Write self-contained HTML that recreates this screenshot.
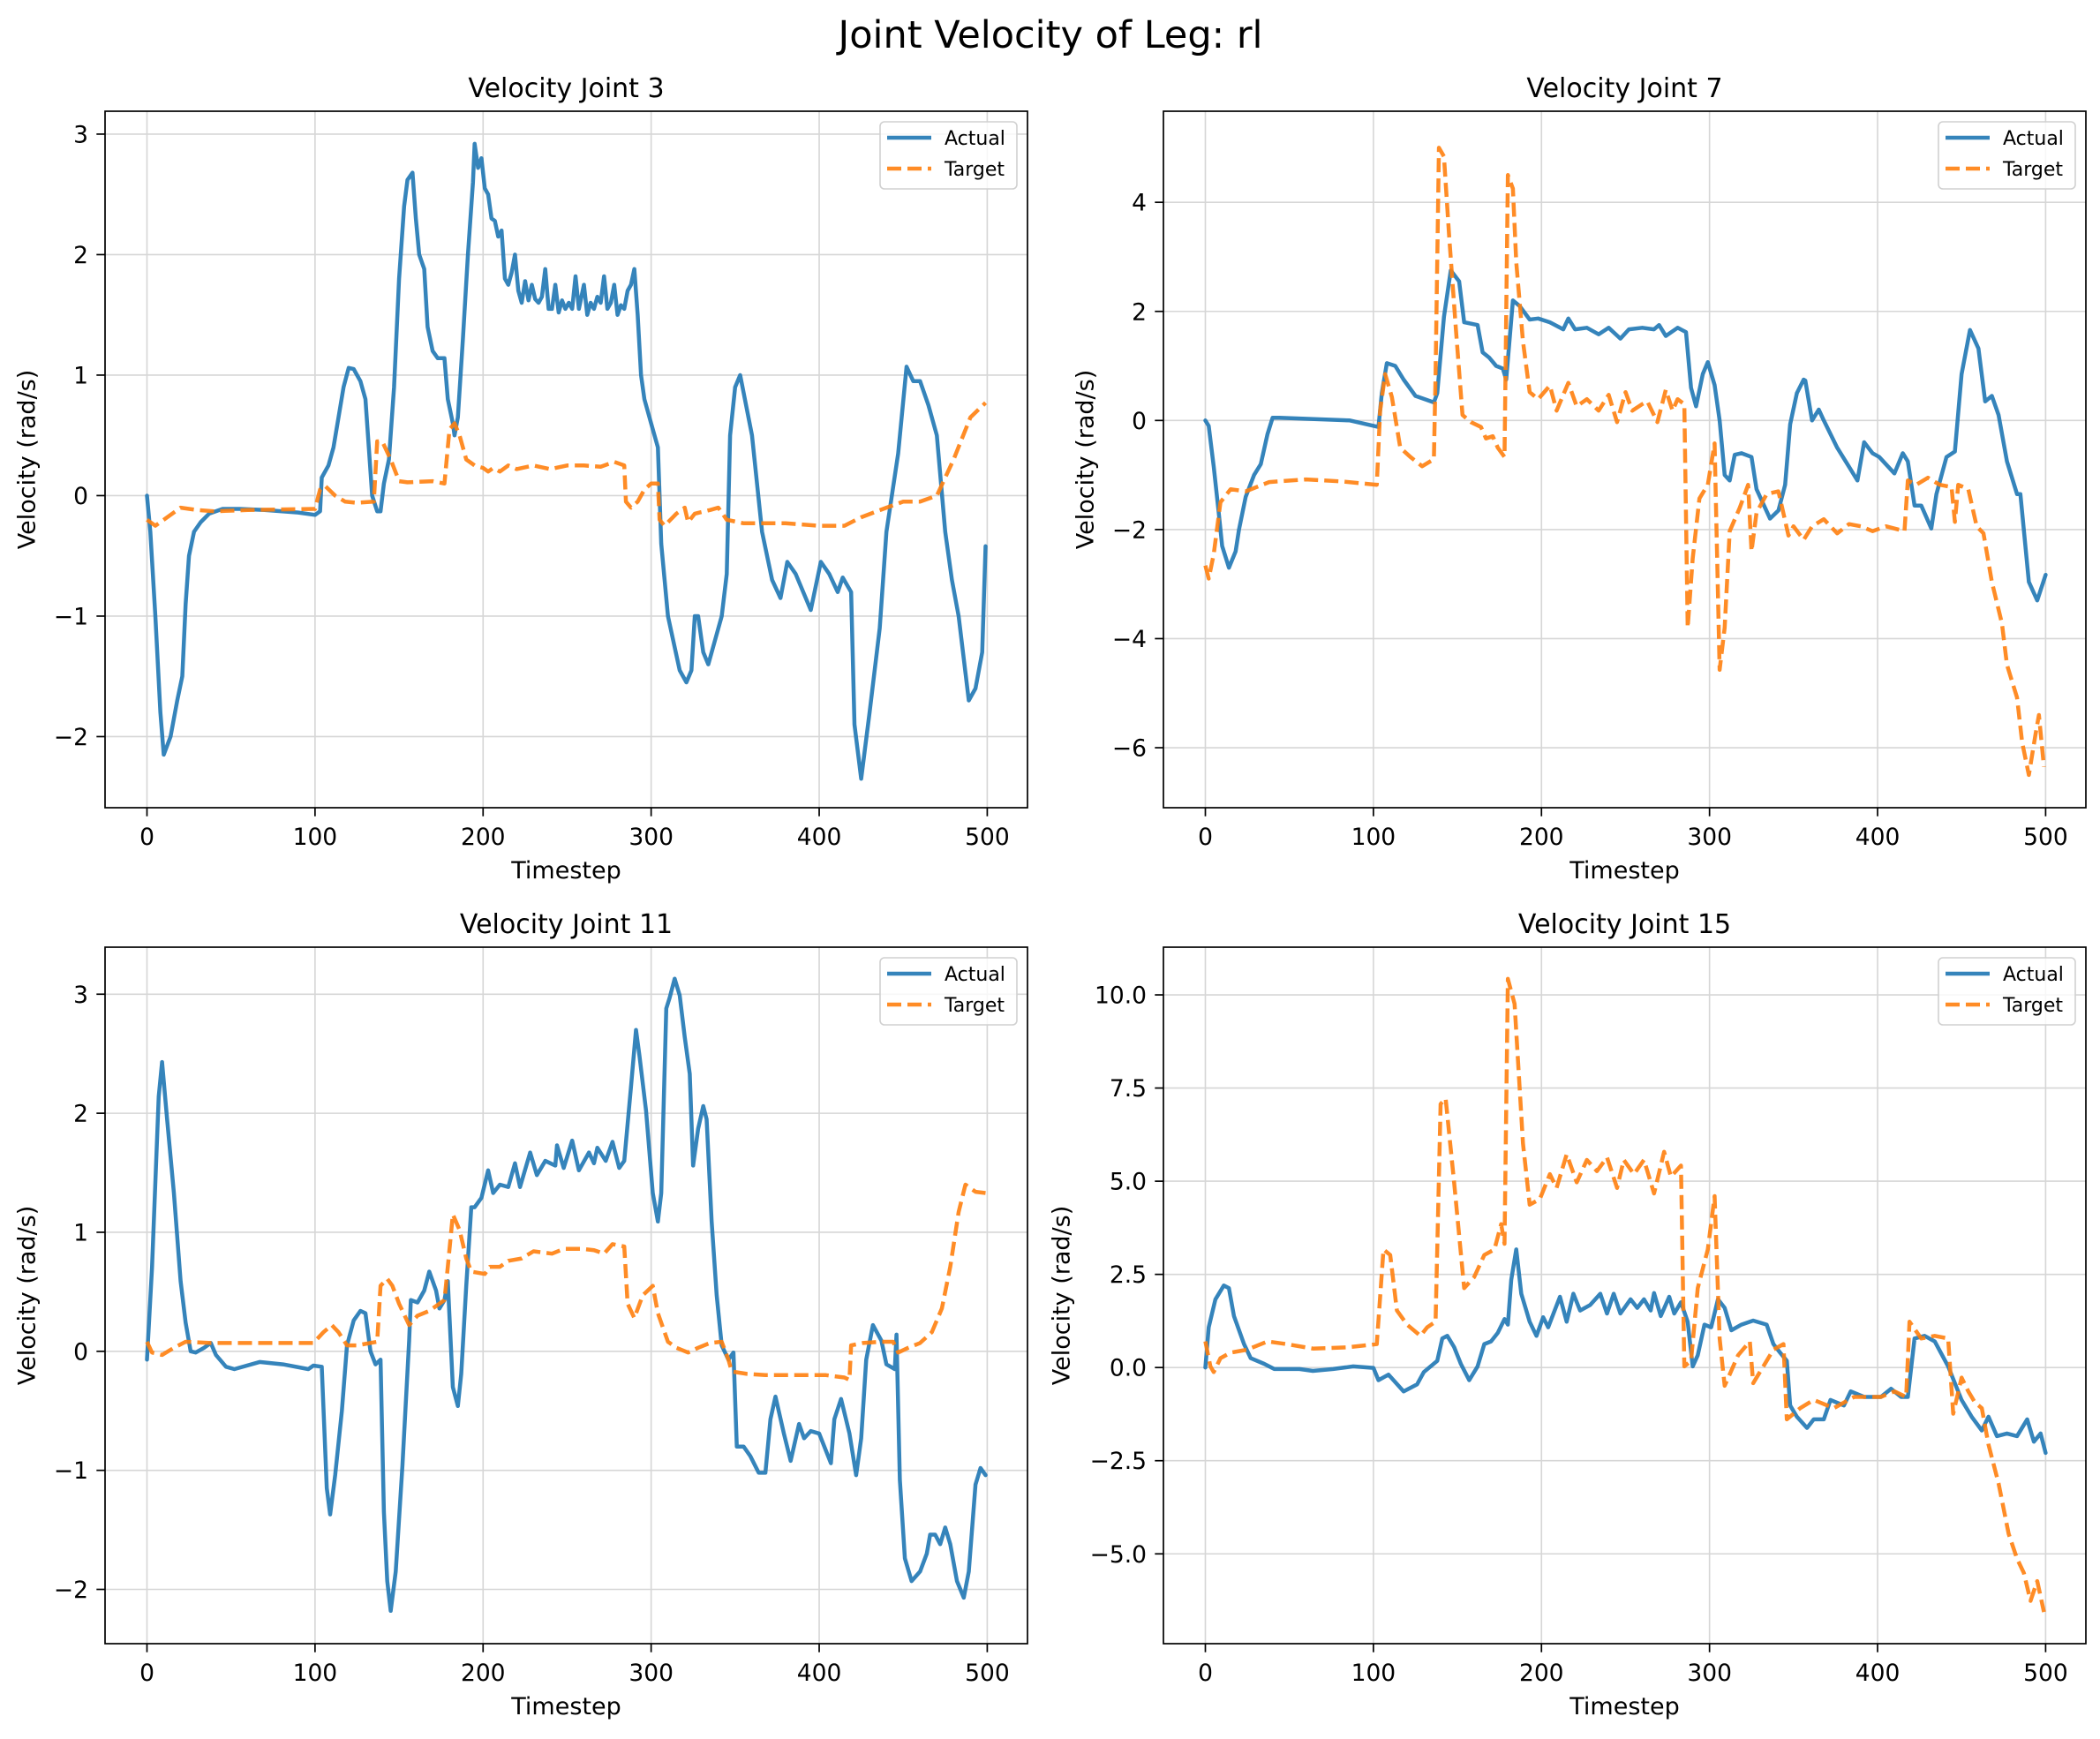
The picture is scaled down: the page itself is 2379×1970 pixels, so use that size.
<!DOCTYPE html>
<html><head><meta charset="utf-8"><title>Joint Velocity of Leg: rl</title>
<style>
html,body{margin:0;padding:0;background:#fff;}
svg{display:block;font-family:"DejaVu Sans","Liberation Sans",sans-serif;}
</style></head>
<body>
<svg id="fig" width="2379" height="1970" viewBox="0 0 2379 1970" xmlns="http://www.w3.org/2000/svg">
<rect x="0" y="0" width="2379" height="1970" fill="#fff"/>
<text x="1190" y="54" font-size="43" text-anchor="middle" fill="#000">Joint Velocity of Leg: rl</text>
</svg>
<script>
// ---- Joint 3 ----
const j3ActualT=[0,2,5,8,10,14,18,21,23,25,28,32,37,45,55,70,90,100,103,104,108,111,114,117,120,123,127,130,132,134,137,139,141,144,147,150,153,155,158,160,162,165,167,170,173,177,179,182,183,185,188,191,194,195,197,199,201,203,205,207,209,211,213,215,217,219,221,223,225,227,229,231,233,235,237,239,241,243,245,247,249,251,253,255,257,260,262,264,266,268,270,272,274,276,278,280,282,284,286,288,290,292,294,296,300,304,306,310,317,321,324,326,328,331,334,338,342,345,347,350,353,360,366,372,377,381,386,392,395,401,406,411,414,419,421,425,430,436,440,447,452,456,460,465,470,475,479,483,489,493,497,499];
const j3ActualV=[0,-0.3,-1.0,-1.8,-2.15,-2.0,-1.7,-1.5,-0.9,-0.5,-0.3,-0.22,-0.15,-0.11,-0.11,-0.12,-0.14,-0.16,-0.13,0.15,0.25,0.4,0.65,0.9,1.06,1.05,0.95,0.8,0.4,0.0,-0.13,-0.13,0.1,0.3,0.9,1.8,2.4,2.62,2.68,2.3,2.0,1.88,1.4,1.2,1.14,1.14,0.8,0.6,0.5,0.65,1.3,2.0,2.6,2.92,2.72,2.8,2.55,2.5,2.3,2.28,2.15,2.2,1.8,1.75,1.85,2.0,1.7,1.6,1.78,1.62,1.75,1.63,1.6,1.65,1.88,1.55,1.55,1.75,1.52,1.62,1.55,1.6,1.55,1.82,1.55,1.75,1.5,1.6,1.55,1.65,1.6,1.82,1.55,1.6,1.75,1.5,1.58,1.55,1.7,1.75,1.88,1.5,1.0,0.8,0.6,0.4,-0.4,-1.0,-1.45,-1.55,-1.45,-1.0,-1.0,-1.3,-1.4,-1.2,-1.0,-0.65,0.5,0.9,1.0,0.5,-0.3,-0.7,-0.85,-0.55,-0.65,-0.85,-0.95,-0.55,-0.65,-0.8,-0.68,-0.8,-1.9,-2.35,-1.8,-1.1,-0.3,0.35,1.07,0.95,0.95,0.75,0.5,-0.3,-0.7,-1.0,-1.7,-1.6,-1.3,-0.42];
const j3TargetT=[0,5,10,20,30,40,60,100,103,106,112,118,125,135,137,140,145,150,155,170,177,180,183,186,190,195,200,203,206,210,215,220,230,240,250,260,270,278,284,285,288,292,296,300,304,305,308,315,320,322,326,335,340,345,355,380,400,415,425,440,450,460,470,480,490,499];
const j3TargetV=[-0.2,-0.25,-0.2,-0.1,-0.12,-0.13,-0.12,-0.11,0.05,0.08,0.0,-0.05,-0.06,-0.05,0.45,0.45,0.3,0.12,0.11,0.12,0.1,0.55,0.6,0.5,0.3,0.25,0.23,0.2,0.23,0.2,0.25,0.22,0.25,0.22,0.25,0.25,0.24,0.28,0.25,-0.05,-0.1,-0.05,0.05,0.1,0.1,-0.2,-0.25,-0.15,-0.1,-0.22,-0.15,-0.12,-0.1,-0.2,-0.23,-0.23,-0.25,-0.25,-0.18,-0.1,-0.05,-0.05,0.0,0.3,0.65,0.77];
// ---- Joint 7 ----
const j7ActualT=[0,2,5,8,10,14,18,20,24,29,33,37,40,44,86,103,105,108,113,118,125,136,138,142,146,151,154,162,165,169,173,177,179,183,187,193,198,205,213,216,220,227,234,240,247,252,260,267,270,274,281,286,289,292,296,299,303,306,309,312,315,319,325,328,336,341,345,348,352,356,357,361,365,368,376,383,388,392,397,401,410,415,418,422,426,432,435,441,446,450,455,460,464,468,472,477,483,485,490,495,500];
const j7ActualV=[0,-0.1,-0.85,-1.7,-2.3,-2.7,-2.4,-2.0,-1.4,-1.0,-0.8,-0.25,0.05,0.05,0.0,-0.12,0.5,1.05,1.0,0.75,0.45,0.33,0.5,1.9,2.75,2.55,1.8,1.75,1.25,1.15,1.0,0.95,0.75,2.2,2.1,1.85,1.87,1.8,1.67,1.87,1.67,1.7,1.58,1.7,1.5,1.67,1.7,1.67,1.75,1.55,1.7,1.62,0.6,0.26,0.85,1.07,0.65,0.0,-1.0,-1.1,-0.63,-0.6,-0.67,-1.26,-1.8,-1.65,-1.18,-0.07,0.5,0.75,0.73,0.0,0.2,0.0,-0.5,-0.85,-1.1,-0.4,-0.6,-0.67,-0.97,-0.6,-0.75,-1.56,-1.56,-1.98,-1.35,-0.67,-0.57,0.85,1.66,1.32,0.35,0.45,0.1,-0.75,-1.35,-1.35,-2.96,-3.3,-2.83];
const j7TargetT=[0,2,5,9,15,24,38,60,82,102,104,107,111,116,122,129,136,137,139,142,145,149,153,158,164,167,171,174,178,180,183,185,189,193,198,205,209,216,221,227,234,240,245,250,254,260,263,269,274,278,281,285,287,290,294,299,303,306,309,312,318,323,325,328,334,341,347,350,356,361,368,376,383,390,397,405,416,418,423,430,437,444,446,448,454,459,463,468,474,477,483,486,490,494,496,499];
const j7TargetV=[-2.66,-2.9,-2.45,-1.5,-1.26,-1.3,-1.13,-1.08,-1.12,-1.18,0.18,0.85,0.43,-0.5,-0.67,-0.84,-0.71,0.85,5.0,4.84,3.4,1.7,0.1,-0.03,-0.12,-0.33,-0.29,-0.5,-0.67,4.5,4.25,2.9,1.45,0.52,0.39,0.64,0.18,0.69,0.26,0.39,0.18,0.47,-0.03,0.52,0.18,0.3,0.35,-0.03,0.56,0.18,0.39,0.3,-3.8,-2.53,-1.43,-1.18,-0.42,-4.57,-3.8,-2.03,-1.6,-1.18,-2.4,-1.69,-1.35,-1.3,-2.11,-1.94,-2.19,-1.94,-1.81,-2.07,-1.9,-1.94,-2.03,-1.94,-2.03,-1.1,-1.18,-1.05,-1.18,-1.22,-1.86,-1.18,-1.26,-1.94,-2.07,-2.96,-3.72,-4.48,-5.08,-5.9,-6.5,-5.75,-5.4,-6.35];
// ---- Joint 11 ----
const j11ActualT=[0,3,7,9,12,16,20,23,26,29,34,38,41,47,52,67,81,96,99,104,107,109,112,116,119,123,127,130,133,136,139,141,143,145,148,152,156,157,161,165,168,172,174,177,179,182,185,187,190,193,195,199,203,206,210,215,219,222,228,232,237,243,244,248,253,257,263,266,268,273,277,281,284,288,291,293,297,301,304,306,309,311,314,317,320,323,325,328,331,333,336,339,342,346,349,351,355,359,364,368,371,374,379,383,388,391,395,400,407,409,413,418,422,425,428,432,437,440,445,446,448,451,455,460,464,466,469,472,475,478,482,486,489,493,496,499];
const j11ActualV=[-0.07,0.7,2.14,2.43,1.95,1.33,0.59,0.24,0.0,-0.01,0.03,0.07,-0.03,-0.13,-0.15,-0.09,-0.11,-0.15,-0.12,-0.13,-1.15,-1.37,-1.04,-0.5,0.05,0.26,0.34,0.32,0.0,-0.11,-0.07,-1.35,-1.93,-2.18,-1.85,-0.96,0.09,0.43,0.41,0.51,0.67,0.51,0.36,0.43,0.59,-0.3,-0.46,-0.19,0.55,1.21,1.21,1.29,1.52,1.33,1.4,1.38,1.58,1.38,1.67,1.48,1.6,1.56,1.73,1.54,1.77,1.52,1.67,1.58,1.71,1.6,1.76,1.54,1.6,2.22,2.7,2.49,2.02,1.33,1.09,1.33,2.88,2.97,3.13,2.99,2.64,2.33,1.56,1.87,2.06,1.95,1.09,0.47,0.05,-0.07,-0.01,-0.8,-0.8,-0.88,-1.02,-1.02,-0.57,-0.38,-0.69,-0.92,-0.61,-0.73,-0.67,-0.69,-0.94,-0.57,-0.4,-0.69,-1.04,-0.73,-0.07,0.22,0.09,-0.11,-0.15,0.14,-1.08,-1.74,-1.93,-1.85,-1.7,-1.54,-1.54,-1.62,-1.48,-1.62,-1.93,-2.07,-1.85,-1.12,-0.98,-1.04];
const j11TargetT=[0,3,9,16,23,38,99,105,110,114,119,125,137,139,143,146,150,156,161,168,174,177,179,182,186,190,193,201,204,210,215,223,230,241,248,259,266,272,277,284,286,290,295,301,304,310,315,322,328,335,342,346,348,357,368,379,393,404,415,418,419,426,437,444,447,453,460,467,473,478,483,487,493,499];
const j11TargetV=[0.08,-0.01,-0.03,0.03,0.08,0.07,0.07,0.16,0.22,0.16,0.05,0.05,0.08,0.55,0.61,0.55,0.4,0.22,0.3,0.34,0.4,0.43,0.71,1.15,1.02,0.78,0.67,0.65,0.71,0.71,0.76,0.78,0.84,0.82,0.86,0.86,0.85,0.82,0.9,0.88,0.4,0.28,0.47,0.55,0.32,0.08,0.03,-0.01,0.03,0.07,0.08,-0.07,-0.17,-0.19,-0.2,-0.2,-0.2,-0.2,-0.22,-0.24,0.05,0.07,0.08,0.08,-0.01,0.03,0.07,0.16,0.36,0.71,1.17,1.4,1.34,1.33];
// ---- Joint 15 ----
const j15ActualT=[0,2,6,11,14,17,23,27,35,41,56,64,76,88,100,103,109,118,126,130,138,141,144,148,152,157,162,166,170,174,178,180,182,185,188,193,197,201,204,211,215,219,223,229,235,239,243,247,253,257,261,265,267,271,276,279,283,287,290,293,297,301,305,309,313,319,326,334,338,342,346,348,352,358,362,368,372,380,384,392,402,408,414,418,422,428,434,442,450,456,462,466,471,477,483,489,493,497,500];
const j15ActualV=[0,1.08,1.83,2.2,2.13,1.38,0.63,0.25,0.1,-0.04,-0.04,-0.09,-0.04,0.03,-0.01,-0.34,-0.19,-0.64,-0.45,-0.12,0.18,0.78,0.85,0.55,0.1,-0.34,0.03,0.63,0.7,0.93,1.3,1.15,2.35,3.17,1.98,1.23,0.85,1.35,1.08,1.9,1.23,1.98,1.53,1.68,1.98,1.45,1.98,1.45,1.83,1.6,1.83,1.53,2.0,1.38,1.9,1.45,1.75,1.23,0.03,0.33,1.15,1.08,1.83,1.6,1.0,1.15,1.26,1.15,0.63,0.4,0.18,-1.02,-1.32,-1.62,-1.39,-1.39,-0.87,-1.02,-0.64,-0.79,-0.79,-0.57,-0.79,-0.79,0.78,0.85,0.7,0.03,-0.87,-1.32,-1.69,-1.32,-1.84,-1.77,-1.84,-1.39,-1.99,-1.77,-2.29];
const j15TargetT=[0,3,5,9,15,25,37,48,64,84,102,106,110,114,120,128,132,137,140,143,148,154,160,166,172,176,178,180,184,189,193,199,205,209,215,221,227,233,239,245,249,255,261,267,273,277,283,285,289,293,299,303,306,309,317,324,326,332,338,344,346,354,362,374,386,402,410,417,419,426,434,442,445,450,454,458,462,466,472,478,483,487,491,495,499];
const j15TargetV=[0.7,0.03,-0.12,0.25,0.4,0.48,0.7,0.63,0.51,0.54,0.63,3.17,3.02,1.53,1.15,0.85,1.08,1.23,7.07,7.22,4.97,2.13,2.43,3.02,3.17,3.85,3.32,10.43,9.76,6.02,4.37,4.52,5.19,4.82,5.72,4.97,5.57,5.27,5.64,4.82,5.57,5.19,5.57,4.67,5.79,5.12,5.42,0.03,0.18,2.13,3.17,4.6,0.78,-0.49,0.33,0.7,-0.42,0.03,0.48,0.63,-1.39,-1.09,-0.87,-1.09,-0.79,-0.79,-0.64,-0.79,1.23,0.78,0.85,0.78,-1.24,-0.27,-0.64,-0.94,-1.09,-2.07,-3.11,-4.46,-5.13,-5.51,-6.26,-5.73,-6.56];
// ---- axes ----
const xTicks=[0,100,200,300,400,500];
const j3YTicks=[-2,-1,0,1,2,3];
const j7YTicks=[-6,-4,-2,0,2,4];
const j11YTicks=[-2,-1,0,1,2,3];
const j15YTicks=[-5,-2.5,0,2.5,5,7.5,10];

const NS='http://www.w3.org/2000/svg';
const svg=document.getElementById('fig');
function mk(tag,attrs,parent){const e=document.createElementNS(NS,tag);for(const k in attrs)e.setAttribute(k,attrs[k]);(parent||svg).appendChild(e);return e;}
function fmt(v,dec){let s=dec?v.toFixed(1):String(v);return s.replace('-','\u2212');}

function panel(p){
  const g=mk('g',{});
  
  
  const W=1045,H=789,xmin=-24.95,xmax=523.95;
  const X=t=>p.left+(t-xmin)/(xmax-xmin)*W;
  const Y=v=>p.top+(p.ymax-v)/(p.ymax-p.ymin)*H;
  xTicks.forEach(t=>{const l=mk('line',{x1:X(t),x2:X(t),y1:p.top,y2:p.top+H,stroke:'#d6d6d6','stroke-width':1.6},g);
    
    });
  p.yticks.forEach(v=>{const l=mk('line',{x1:p.left,x2:p.left+W,y1:Y(v),y2:Y(v),stroke:'#d6d6d6','stroke-width':1.6},g);
    
    });
  const pts=(T,V)=>T.map((t,i)=>X(t).toFixed(1)+','+Y(V[i]).toFixed(1)).join(' ');
  const a=mk('polyline',{points:pts(p.aT,p.aV),fill:'none',stroke:'#1f77b4','stroke-opacity':0.9,'stroke-width':4.5,'stroke-linejoin':'round','stroke-linecap':'round'},g);
  
  
  const tg=mk('polyline',{points:pts(p.tT,p.tV),fill:'none',stroke:'#ff7f0e','stroke-opacity':0.9,'stroke-width':4.5,'stroke-dasharray':'16,7','stroke-linejoin':'round'},g);
  
  
  const fr=mk('rect',{x:p.left,y:p.top,width:W,height:H,fill:'none',stroke:'#000','stroke-width':1.7},g);
  
  
  xTicks.forEach(t=>{mk('line',{x1:X(t),x2:X(t),y1:p.top+H,y2:p.top+H+9.7,stroke:'#000','stroke-width':1.7},g);
    const tx=mk('text',{x:X(t),y:p.top+H+42,'font-size':26.5,'text-anchor':'middle',fill:'#000'},g);
    
    
    tx.textContent=String(t);});
  p.yticks.forEach(v=>{mk('line',{x1:p.left-9.7,x2:p.left,y1:Y(v),y2:Y(v),stroke:'#000','stroke-width':1.7},g);
    const tx=mk('text',{x:p.left-19,y:Y(v)+9.5,'font-size':26.5,'text-anchor':'end',fill:'#000'},g);
    
    
    tx.textContent=fmt(v,p.dec);});
  const ti=mk('text',{x:p.left+W/2,y:p.top-16,'font-size':30,'text-anchor':'middle',fill:'#000'},g);
  
  
  ti.textContent=p.title;
  const xl=mk('text',{x:p.left+W/2,y:p.top+H+80,'font-size':27,'text-anchor':'middle',fill:'#000'},g);
  
  
  xl.textContent='Timestep';
  const cy=p.top+H/2;
  const yl=mk('text',{x:p.ylx,y:cy,'font-size':27,'text-anchor':'middle',fill:'#000',transform:'rotate(-90 '+p.ylx+' '+cy+')','dominant-baseline':'central'},g);
  
  
  yl.textContent='Velocity (rad/s)';
  const lx=p.left+W-167,ly=p.top+12;
  const lg=mk('g',{},g);
  
  
  mk('rect',{x:lx,y:ly,width:155,height:76,rx:5,fill:'#fff','fill-opacity':0.8,stroke:'#d0d0d0','stroke-width':1.6},lg);
  mk('line',{x1:lx+8,x2:lx+58,y1:ly+18,y2:ly+18,stroke:'#1f77b4','stroke-opacity':0.9,'stroke-width':4.5},lg);
  mk('line',{x1:lx+8,x2:lx+58,y1:ly+53,y2:ly+53,stroke:'#ff7f0e','stroke-opacity':0.9,'stroke-width':4.5,'stroke-dasharray':'16,7'},lg);
  const e1=mk('text',{x:lx+73,y:ly+26,'font-size':22,fill:'#000'},lg);
  
  
  e1.textContent='Actual';
  const e2=mk('text',{x:lx+73,y:ly+61,'font-size':22,fill:'#000'},lg);
  
  
  e2.textContent='Target';
}
panel({id:'joint-3',title:'Velocity Joint 3',left:119,top:126,ymin:-2.59,ymax:3.19,yticks:j3YTicks,dec:false,ylx:31,aT:j3ActualT,aV:j3ActualV,tT:j3TargetT,tV:j3TargetV});
panel({id:'joint-7',title:'Velocity Joint 7',left:1318,top:126,ymin:-7.10,ymax:5.67,yticks:j7YTicks,dec:false,ylx:1230,aT:j7ActualT,aV:j7ActualV,tT:j7TargetT,tV:j7TargetV});
panel({id:'joint-11',title:'Velocity Joint 11',left:119,top:1073,ymin:-2.456,ymax:3.395,yticks:j11YTicks,dec:false,ylx:31,aT:j11ActualT,aV:j11ActualV,tT:j11TargetT,tV:j11TargetV});
panel({id:'joint-15',title:'Velocity Joint 15',left:1318,top:1073,ymin:-7.41,ymax:11.28,yticks:j15YTicks,dec:true,ylx:1203,aT:j15ActualT,aV:j15ActualV,tT:j15TargetT,tV:j15TargetV});
</script>
</body></html>
